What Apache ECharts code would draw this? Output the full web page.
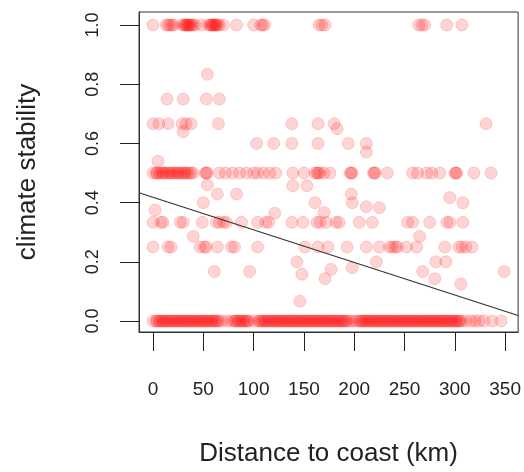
<!DOCTYPE html>
<html>
<head>
<meta charset="utf-8">
<script src="https://cdn.jsdelivr.net/npm/echarts@6/dist/echarts.min.js"></script>
<style>
html,body{margin:0;padding:0;background:#fff;}
#chart{width:524px;height:472px;}
</style>
</head>
<body>
<div id="chart"></div>
<script>
// Distance to coast (km) of points at each climate-stability level
const level_1_000 = [0, 13, 15, 17, 19, 21, 29, 31, 32, 33, 34, 35, 36, 37, 38, 40, 42, 48, 55, 57, 58, 59, 60, 61, 62, 63, 64, 66, 70, 83, 100, 107, 109, 111, 165, 168, 171, 264, 267, 270, 292, 307];
const level_0_833 = [54];
const level_0_750 = [14, 30, 53, 66];
const level_0_667 = [0, 6, 15, 29, 33, 38, 65, 138, 164, 180, 331];
const level_0_600 = [103, 120, 138, 164, 194, 212];
const level_0_500 = [0, 3, 4, 6, 8, 10, 11, 13, 15, 17, 18, 20, 22, 24, 25, 27, 29, 31, 32, 34, 36, 38, 40, 52, 53, 54, 66, 72, 79, 86, 93, 100, 104, 110, 116, 122, 139, 150, 161, 163, 164, 166, 170, 176, 196, 197, 198, 219, 220, 221, 233, 258, 263, 272, 277, 285, 300, 301, 302, 319, 336];
const level_0_333 = [0, 8, 10, 27, 30, 49, 63, 66, 70, 73, 88, 104, 112, 115, 138, 149, 163, 166, 172, 182, 185, 205, 218, 253, 258, 275, 292, 295, 308];
const level_0_250 = [0, 15, 18, 47, 51, 53, 64, 78, 81, 104, 151, 164, 174, 193, 212, 225, 235, 238, 241, 243, 252, 262, 290, 304, 307, 311, 317];
const level_0_000 = [0, 3, 4, 6, 7, 9, 10, 12, 13, 15, 16, 18, 19, 21, 22, 24, 25, 27, 28, 30, 31, 33, 34, 36, 37, 39, 40, 42, 43, 45, 46, 48, 49, 51, 52, 54, 55, 57, 58, 60, 61, 63, 64, 66, 69, 74, 78, 81, 82, 84, 85, 87, 88, 90, 91, 93, 94, 96, 101, 105, 106, 108, 109, 111, 112, 114, 115, 117, 118, 120, 121, 123, 124, 126, 127, 129, 130, 132, 133, 135, 136, 138, 139, 141, 142, 144, 145, 147, 148, 150, 151, 153, 154, 156, 157, 159, 160, 162, 163, 165, 166, 168, 169, 171, 172, 174, 175, 177, 178, 180, 181, 183, 184, 186, 187, 189, 190, 192, 193, 196, 199, 202, 205, 206, 208, 209, 211, 212, 214, 215, 217, 218, 220, 221, 223, 224, 226, 227, 229, 230, 232, 233, 235, 236, 238, 239, 241, 242, 244, 245, 247, 248, 250, 251, 253, 254, 256, 257, 259, 260, 262, 263, 265, 266, 268, 269, 271, 272, 274, 275, 277, 278, 280, 281, 283, 284, 286, 287, 289, 290, 292, 293, 295, 296, 298, 299, 301, 302, 304, 305, 307, 311, 316, 320, 324, 329, 337, 346];
// Other individual points [distance, stability]
const otherPoints = [
  [30, 0.64], [183, 0.65], [212, 0.571], [5, 0.54],
  [54, 0.46], [139, 0.457], [153, 0.457],
  [64, 0.429], [83, 0.429], [197, 0.429], [295, 0.417],
  [198, 0.4], [308, 0.4], [50, 0.4], [161, 0.4],
  [212, 0.386], [225, 0.383], [2, 0.375], [121, 0.364], [170, 0.367],
  [40, 0.286], [265, 0.286],
  [143, 0.2], [222, 0.2], [281, 0.2], [291, 0.2], [198, 0.18], [177, 0.174],
  [61, 0.167], [96, 0.167], [148, 0.158], [268, 0.167], [349, 0.167],
  [171, 0.143], [280, 0.143], [306, 0.125], [146, 0.067]
];
const xTicks = [0, 50, 100, 150, 200, 250, 300, 350];
const yTicks = [0, 0.2, 0.4, 0.6, 0.8, 1.0];
// Fitted line coefficients
const fitIntercept = 0.418;
const fitSlope = -0.0011;

const xMin = -13.9, xMax = 362.9;
const levels = [
  [1.0, level_1_000], [5/6, level_0_833], [0.75, level_0_750], [2/3, level_0_667],
  [0.6, level_0_600], [0.5, level_0_500], [1/3, level_0_333], [0.25, level_0_250], [0, level_0_000]
];
const pts = [];
levels.forEach(([y, xs]) => xs.forEach(x => pts.push([x, y])));
otherPoints.forEach(p => pts.push(p));

const font = '"Liberation Sans", Arial, Helvetica, sans-serif';
const chart = echarts.init(document.getElementById('chart'));
chart.setOption({
  animation: false,
  grid: {left: 139, right: 5, top: 12, bottom: 139, show: true, borderColor: '#333', borderWidth: 1},
  xAxis: {
    type: 'value', min: xMin, max: xMax,
    name: 'Distance to coast (km)', nameLocation: 'middle', nameGap: 109,
    nameTextStyle: {fontFamily: font, fontSize: 26, color: '#222'},
    axisLine: {show: true, onZero: false, lineStyle: {color: '#333', width: 1}},
    axisTick: {show: true, length: 19, customValues: xTicks, lineStyle: {color: '#222', width: 1}},
    axisLabel: {customValues: xTicks, margin: 48, fontFamily: font, fontSize: 19, color: '#222'},
    splitLine: {show: false}
  },
  yAxis: {
    type: 'value', min: -0.037, max: 1.044,
    name: 'climate stability', nameLocation: 'middle', nameGap: 98, nameRotate: 90,
    nameTextStyle: {fontFamily: font, fontSize: 26, color: '#222'},
    axisLine: {show: true, onZero: false, lineStyle: {color: '#333', width: 1}},
    axisTick: {show: true, length: 19, customValues: yTicks, lineStyle: {color: '#222', width: 1}},
    axisLabel: {customValues: yTicks, rotate: 90, margin: 37, fontFamily: font, fontSize: 18, color: '#222', formatter: v => v.toFixed(1)},
    splitLine: {show: false}
  },
  series: [
    {
      type: 'scatter', data: pts, symbol: 'circle', symbolSize: 12,
      itemStyle: {color: 'rgba(255,0,0,0.21)', borderColor: 'rgba(255,0,0,0.21)', borderWidth: 1},
      emphasis: {disabled: true}, z: 2
    },
    {
      type: 'line', data: [[xMin, fitIntercept + fitSlope * xMin], [xMax, fitIntercept + fitSlope * xMax]],
      symbol: 'none', lineStyle: {color: '#333', width: 1.2}, z: 3, silent: true
    }
  ]
});
</script>
</body>
</html>
